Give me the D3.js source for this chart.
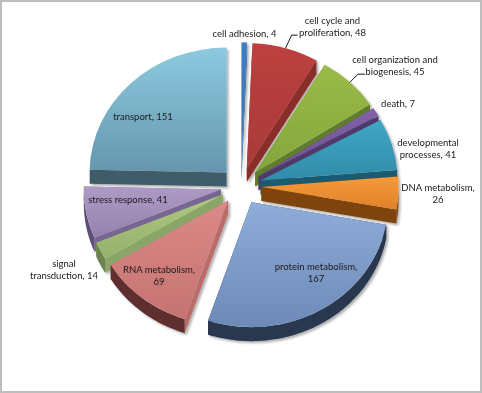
<!DOCTYPE html>
<html>
<head>
<meta charset="utf-8">
<script src="https://cdn.jsdelivr.net/npm/d3@7"></script>
<style>
    html, body { margin: 0; padding: 0; background: #fff; }
    text { font-family: Lato, "Open Sans", sans-serif; font-size: 9.5px; fill: #1a1a1a; }
</style>
</head>
<body>
<div id="pie-div"></div>
<script>
const categories = ['cell adhesion', 'cell cycle and proliferation', 'cell organization and biogenesis', 'death',
    'developmental processes', 'DNA metabolism', 'protein metabolism', 'RNA metabolism',
    'signal transduction', 'stress response', 'transport'];
const values = [4, 48, 45, 7, 41, 26, 167, 69, 14, 41, 151];

// styling per slice
const topColors = ['#3f7fc4', '#bd4040', '#9bbb47', '#8261a8', '#3fa6c6', '#f79a3a', '#8fadd9', '#dc8a88', '#afc982', '#ae9bc5', '#8ccae0'];
const bottomColors = ['#3571b0', '#a83a38', '#83a53c', '#6d5191', '#318ca9', '#df8128', '#6d8ab8', '#c47371', '#96b06c', '#9480ad', '#6596ac'];
const rimColors = ['#28527f', '#7c2a29', '#5f7a2c', '#4f3a6b', '#1c5a6f', '#7d4410', '#29374f', '#5e2e2e', '#6c8250', '#5d4d78', '#3f5b68'];
const sideColors = ['#28527f', '#8a2e2c', '#617d2e', '#4f3a6b', '#1c5a6f', '#7d4410', '#29374f', '#b96c6a', '#8aa567', '#776691', '#3f5b68'];

// where the labels sit: centre x, first baseline, words on the first line (0 = one line)
const labelX = [244.5, 332.5, 395, 398, 428, 438, 316, 159, 64, 128, 143];
const labelY = [37, 24, 63, 107, 146, 191, 270, 273, 267, 203, 120];
const labelWrap = [0, 3, 3, 0, 1, 2, 2, 2, 1, 0, 0];

// slices with a leader line: elbow offset from the slice edge, then length of the flat part
const leaderSlices = [1, 2];
const leaderDx = [6, 8];
const leaderDy = [-13, -8];
const leaderRun = [6, 7];

// back to front
const drawOrder = [10, 0, 1, 2, 3, 4, 5, 9, 8, 7, 6];

const width = 482;
const height = 393;
const centerX = 241;
const centerY = 186;
const radiusX = 137;
const radiusY = 125;
const depth = 14;
const explode = 0.15;

const svg = d3.select("#pie-div")
    .append("svg")
    .attr("width", width)
    .attr("height", height)
    .style("display", "block");

svg.append("rect")
    .attr("x", 1)
    .attr("y", 1)
    .attr("width", width - 2)
    .attr("height", height - 2)
    .attr("fill", "white")
    .attr("stroke", "#bdbdbd")
    .attr("stroke-width", 2);

const defs = svg.append("defs");

const shadow = defs.append("filter")
    .attr("id", "soft-shadow")
    .attr("x", "-10%").attr("y", "-10%")
    .attr("width", "125%").attr("height", "125%");
shadow.append("feDropShadow")
    .attr("dx", 2)
    .attr("dy", 2)
    .attr("stdDeviation", 1.3)
    .attr("flood-color", "#000")
    .attr("flood-opacity", 0.3);

const pie = d3.pie().sort(null).value(d => d);
const slices = pie(values);

// pie angle -> point on the tilted ellipse, 0 at the top going clockwise
function point(angle, cx, cy) {
    return [cx + radiusX * Math.sin(angle), cy - radiusY * Math.cos(angle)];
}

function apexOf(d) {
    const mid = (d.startAngle + d.endAngle) / 2;
    return point(mid, centerX, centerY).map((v, i) => {
        const c = i === 0 ? centerX : centerY;
        return c + (v - c) * explode;
    });
}

const arc = d3.arc().innerRadius(0).outerRadius(1);

slices.forEach(function(d, i) {
    const grad = defs.append("linearGradient")
        .attr("id", "face-" + i)
        .attr("x1", 0).attr("y1", 0)
        .attr("x2", 0).attr("y2", 1);
    grad.append("stop").attr("offset", "0%").attr("stop-color", topColors[i]);
    grad.append("stop").attr("offset", "100%").attr("stop-color", bottomColors[i]);
});

const pieG = svg.append("g")
    .attr("id", "pie")
    .attr("filter", "url(#soft-shadow)");

drawOrder.forEach(function(i) {
    const d = slices[i];
    const [ax, ay] = apexOf(d);
    const g = pieG.append("g").attr("class", "slice");
    const outerStart = point(d.startAngle, ax, ay);
    const outerEnd = point(d.endAngle, ax, ay);

    // radial walls, start and end
    [outerStart, outerEnd].forEach(function(p) {
        g.append("path")
            .attr("d", d3.line()([[ax, ay], p, [p[0], p[1] + depth], [ax, ay + depth]]) + "Z")
            .attr("fill", sideColors[i]);
    });

    // curved wall on the part of the rim that faces the viewer
    const from = Math.max(d.startAngle, Math.PI / 2);
    const to = Math.min(d.endAngle, Math.PI * 3 / 2);
    if (to > from) {
        const rim = d3.range(from, to, 0.02).concat([to]).map(a => point(a, ax, ay));
        const wall = rim.concat(rim.slice().reverse().map(p => [p[0], p[1] + depth]));
        g.append("path")
            .attr("d", d3.line()(wall) + "Z")
            .attr("fill", rimColors[i]);
    }

    // top surface
    g.append("path")
        .attr("d", arc({startAngle: d.startAngle, endAngle: d.endAngle}))
        .attr("transform", `translate(${ax},${ay}) scale(${radiusX},${radiusY})`)
        .attr("fill", `url(#face-${i})`);
});

// leader lines
leaderSlices.forEach(function(i, k) {
    const d = slices[i];
    const [ax, ay] = apexOf(d);
    const p = point((d.startAngle + d.endAngle) / 2, ax, ay);
    const elbow = [p[0] + leaderDx[k], p[1] + leaderDy[k]];
    svg.append("path")
        .attr("d", d3.line()([p, elbow, [elbow[0] + leaderRun[k], elbow[1]]]))
        .attr("fill", "none")
        .attr("stroke", "#1a1a1a")
        .attr("stroke-width", 1);
});

// labels
const lineHeight = 11.7;
slices.forEach(function(d, i) {
    const words = `${categories[i]}, ${values[i]}`.split(" ");
    const lines = labelWrap[i] === 0
        ? [words.join(" ")]
        : [words.slice(0, labelWrap[i]).join(" "), words.slice(labelWrap[i]).join(" ")];
    const t = svg.append("text")
        .attr("text-anchor", "middle")
        .attr("x", labelX[i])
        .attr("y", labelY[i]);
    lines.forEach(function(line, j) {
        t.append("tspan")
            .attr("x", labelX[i])
            .attr("dy", j === 0 ? 0 : lineHeight)
            .text(line);
    });
});
</script>
</body>
</html>
